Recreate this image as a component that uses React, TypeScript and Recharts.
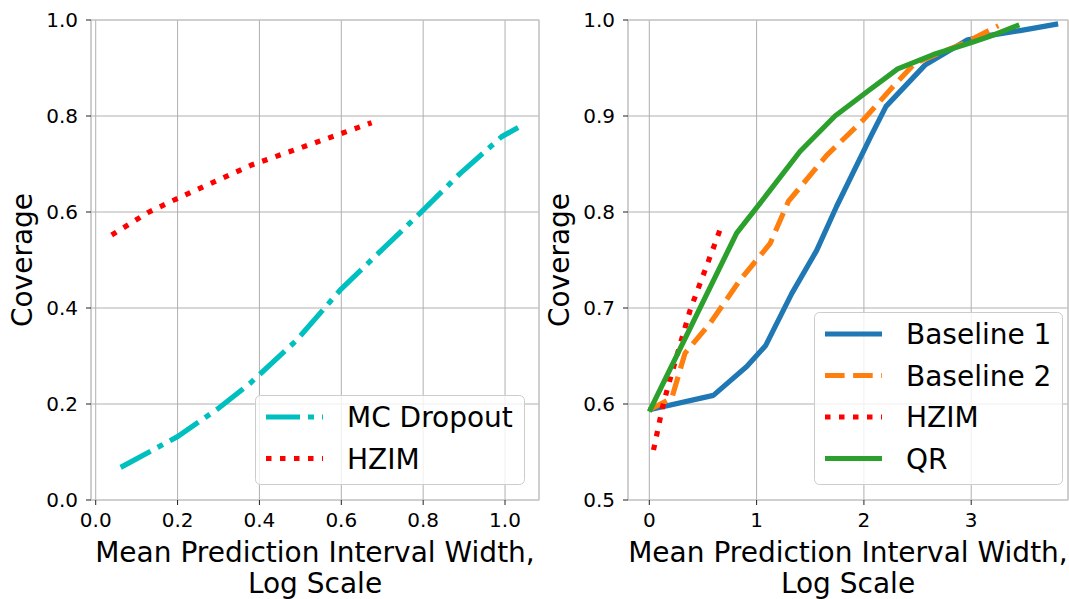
import {
  CartesianGrid, Label, Legend, Line, LineChart, ReferenceArea, XAxis, YAxis,
} from "recharts";

const FONT = "'DejaVu Sans', Verdana, sans-serif";

// left panel
const leftXTicks = [0, 0.2, 0.4, 0.6, 0.8, 1.0];
const leftYTicks = [0, 0.2, 0.4, 0.6, 0.8, 1.0];
const mcDropoutWidth = [0.061, 0.2, 0.3, 0.377, 0.491, 0.597, 0.694, 0.792, 0.89, 0.992, 1.032];
const mcDropoutCov = [0.068, 0.132, 0.191, 0.243, 0.333, 0.437, 0.517, 0.597, 0.68, 0.757, 0.776];
const hzimWidth = [0.039, 0.128, 0.194, 0.381, 0.605, 0.674];
const hzimCov = [0.552, 0.599, 0.626, 0.698, 0.765, 0.786];

// right panel
const rightXTicks = [0, 1, 2, 3];
const rightYTicks = [0.5, 0.6, 0.7, 0.8, 0.9, 1.0];
const baseline1Width = [0, 0.597, 0.908, 1.085, 1.327, 1.56, 1.746, 2.07, 2.206, 2.569, 2.958, 3.175, 3.455, 3.81];
const baseline1Cov = [0.594, 0.609, 0.639, 0.661, 0.715, 0.76, 0.806, 0.88, 0.91, 0.953, 0.979, 0.984, 0.989, 0.996];
const baseline2Width = [0, 0.209, 0.333, 0.566, 0.845, 1.125, 1.296, 1.653, 1.995, 2.274, 2.476, 2.958, 3.253];
const baseline2Cov = [0.594, 0.606, 0.653, 0.684, 0.729, 0.767, 0.811, 0.859, 0.896, 0.931, 0.955, 0.977, 0.994];
const qrWidth = [0, 0.814, 1.094, 1.404, 1.731, 2.026, 2.315, 2.647, 2.989, 3.175, 3.448];
const qrCov = [0.592, 0.778, 0.818, 0.863, 0.9, 0.925, 0.949, 0.964, 0.976, 0.983, 0.995];

const rows = (xs: number[], ys: number[]) => xs.map((x, i) => ({ x, y: ys[i] }));

type Series = { name: string; data: { x: number; y: number }[]; color: string; dash?: string };

const mcDropout: Series = { name: "MC Dropout", data: rows(mcDropoutWidth, mcDropoutCov), color: "#00bfbf", dash: "34 8 6 8" };
const hzim: Series = { name: "HZIM", data: rows(hzimWidth, hzimCov), color: "#ff0000", dash: "5.5 8.5" };
const baseline1: Series = { name: "Baseline 1", data: rows(baseline1Width, baseline1Cov), color: "#1f77b4" };
const baseline2: Series = { name: "Baseline 2", data: rows(baseline2Width, baseline2Cov), color: "#ff7f0e", dash: "19.6 8.5" };
const qr: Series = { name: "QR", data: rows(qrWidth, qrCov), color: "#2ca02c" };

function LegendBox({ items, width, height }: { items: Series[]; width: number; height: number }) {
  return (
    <svg width={width} height={height} style={{ display: "block" }}>
      <rect x={0.5} y={0.5} width={width - 1} height={height - 1} rx={5}
        fill="rgba(255,255,255,0.8)" stroke="#cccccc" />
      {items.map((s, i) => {
        const cy = 22 + i * 41.5;
        return (
          <g key={s.name}>
            <line x1={11} x2={68} y1={cy} y2={cy} stroke={s.color} strokeWidth={5.2} strokeDasharray={s.dash} />
            <text x={92} y={cy + 10} fontSize={28} fontFamily={FONT} fill="#000">{s.name}</text>
          </g>
        );
      })}
    </svg>
  );
}

const XTitle = (props: any) => {
  const vb = props.viewBox;
  const cx = vb.x + vb.width / 2;
  return (
    <g fontSize={28} fontFamily={FONT} fill="#000">
      <text textAnchor="middle" x={cx} y={vb.y + 62}>Mean Prediction Interval Width,</text>
      <text textAnchor="middle" x={cx} y={vb.y + 93}>Log Scale</text>
    </g>
  );
};

const YTitle = (props: any) => {
  const vb = props.viewBox;
  const cy = vb.y + vb.height / 2;
  return (
    <text transform={`translate(${vb.x + vb.width - 59},${cy}) rotate(-90)`} textAnchor="middle"
      fontSize={28} fontFamily={FONT} fill="#000">Coverage</text>
  );
};

const tickStyle = { fontSize: 20, fill: "#000", fontFamily: FONT };

function Panel(props: {
  width: number; yAxisWidth: number; right: number;
  xDomain: [number, number]; yDomain: [number, number];
  xTicks: number[]; yTicks: number[]; digits: number; yDigits: number;
  series: Series[]; legend: { left: number; top: number; width: number; height: number };
}) {
  const { xDomain, yDomain } = props;
  return (
    <LineChart width={props.width} height={599} margin={{ top: 20, right: props.right, bottom: 0, left: 0 }}>
      <CartesianGrid stroke="#b0b0b0" strokeWidth={1} />
      <XAxis type="number" dataKey="x" domain={xDomain} ticks={props.xTicks} allowDataOverflow
        tickFormatter={(v: number) => v.toFixed(props.digits)} tick={tickStyle}
        axisLine={false} tickLine={{ stroke: "#222" }} tickSize={5} tickMargin={8} height={99}>
        <Label content={XTitle} />
      </XAxis>
      <YAxis type="number" dataKey="y" domain={yDomain} ticks={props.yTicks} allowDataOverflow
        tickFormatter={(v: number) => v.toFixed(props.yDigits)} tick={tickStyle}
        axisLine={false} tickLine={{ stroke: "#222" }} tickSize={5} tickMargin={8} width={props.yAxisWidth}>
        <Label content={YTitle} />
      </YAxis>
      <ReferenceArea x1={xDomain[0]} x2={xDomain[1]} y1={yDomain[0]} y2={yDomain[1]}
        fill="none" stroke="#c8c8c8" strokeWidth={1.2} fillOpacity={0} />
      {props.series.map((s) => (
        <Line key={s.name} data={s.data} dataKey="y" name={s.name} type="linear" stroke={s.color}
          strokeWidth={5.2} strokeDasharray={s.dash} dot={false} activeDot={false}
          strokeLinejoin="round" isAnimationActive={false} />
      ))}
      <Legend layout="vertical" align="center" verticalAlign="middle"
        wrapperStyle={{ left: props.legend.left, top: props.legend.top, width: props.legend.width, height: props.legend.height }}
        content={() => <LegendBox items={props.series} width={props.legend.width} height={props.legend.height} />} />
    </LineChart>
  );
}

export default function App() {
  return (
    <div style={{ position: "absolute", left: 0, top: 0, width: 1069, height: 599, background: "#fff", fontFamily: FONT }}>
      <div style={{ position: "absolute", left: 0, top: 0 }}>
        <Panel width={545} yAxisWidth={91} right={6} xDomain={[-0.0115, 1.083]} yDomain={[0, 1]}
          xTicks={leftXTicks} yTicks={leftYTicks} digits={1} yDigits={1}
          series={[mcDropout, hzim]} legend={{ left: 255, top: 395, width: 270, height: 90 }} />
      </div>
      <div style={{ position: "absolute", left: 535, top: 0 }}>
        <Panel width={534} yAxisWidth={93} right={1} xDomain={[-0.1985, 3.902]} yDomain={[0.5, 1]}
          xTicks={rightXTicks} yTicks={rightYTicks} digits={0} yDigits={1}
          series={[baseline1, baseline2, hzim, qr]} legend={{ left: 279, top: 312, width: 249, height: 173 }} />
      </div>
    </div>
  );
}
